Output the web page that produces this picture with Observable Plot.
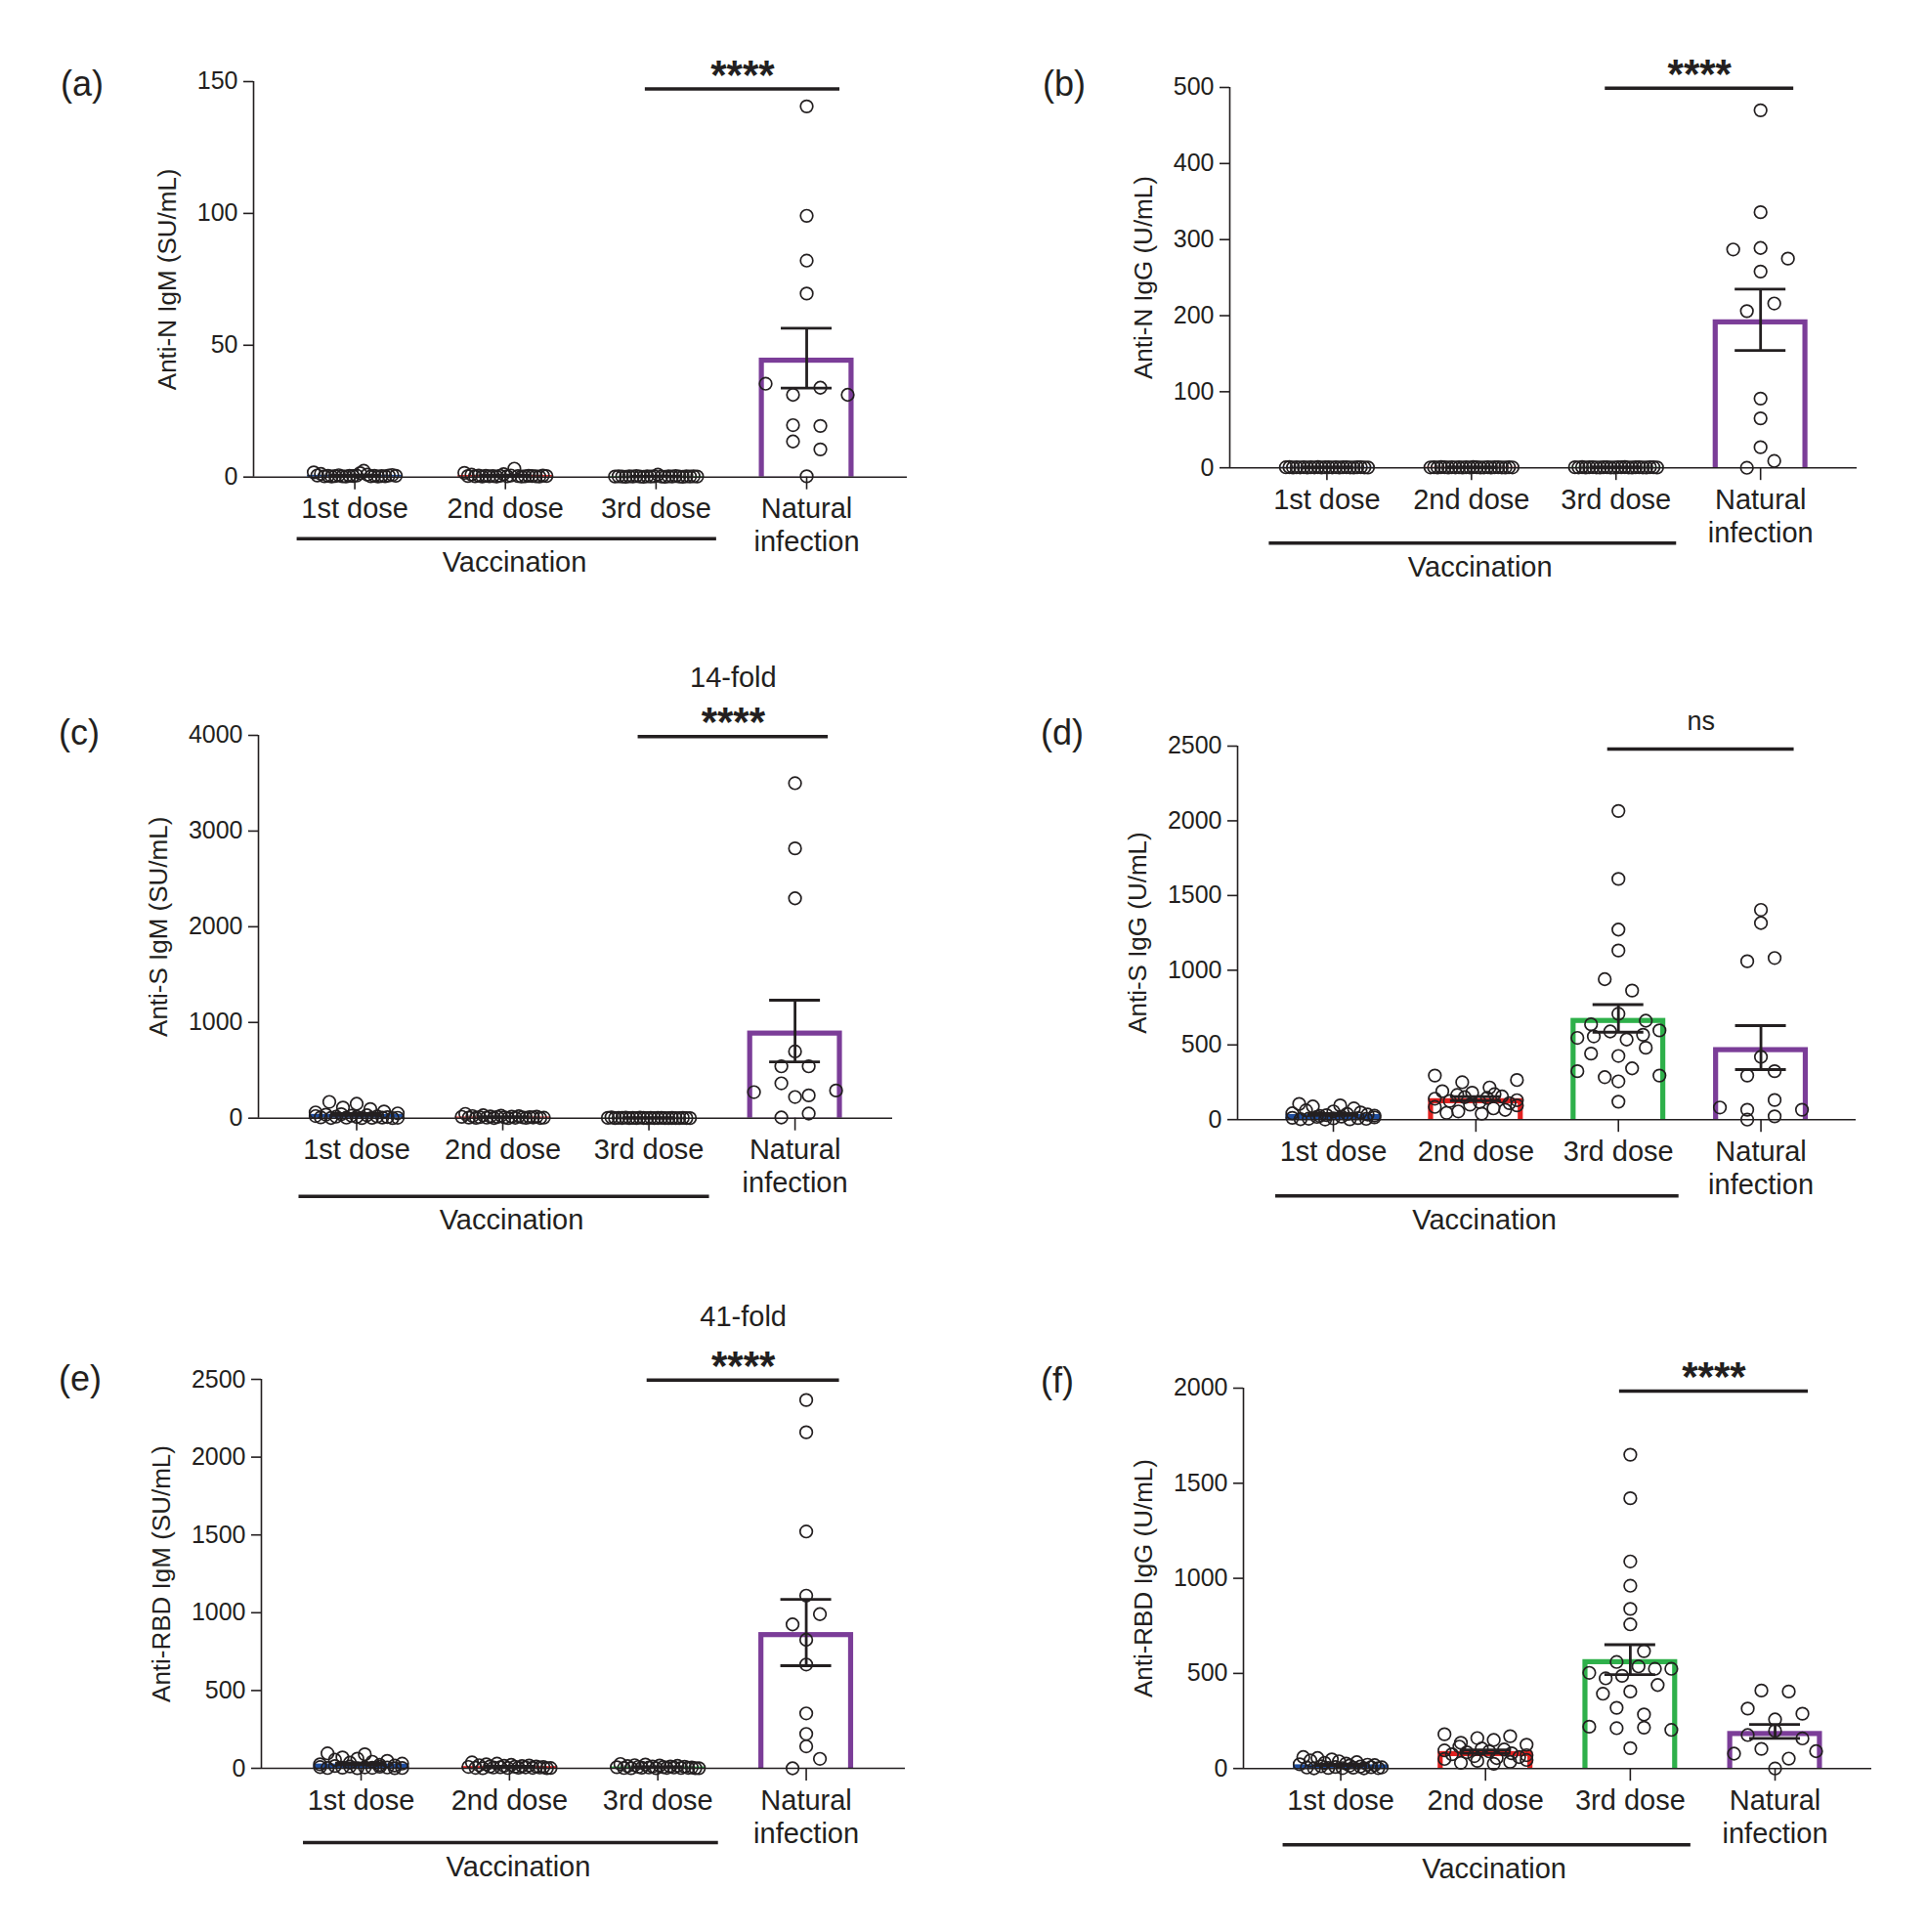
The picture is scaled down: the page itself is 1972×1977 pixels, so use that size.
<!DOCTYPE html>
<html><head><meta charset="utf-8">
<script src="https://cdn.jsdelivr.net/npm/d3@7"></script>
<script src="https://cdn.jsdelivr.net/npm/@observablehq/plot@0.6"></script>
<style>
body{margin:0;background:#fff;}
#root{position:relative;width:1972px;height:1977px;font-family:"Liberation Sans",Arial,sans-serif;color:#231f20;background:#fff;}
.letter{position:absolute;font-size:36px;line-height:1;white-space:nowrap;}
</style></head><body><div id="root"></div>
<script>
// ---------- categories / labels ----------
const groups = ["1st dose", "2nd dose", "3rd dose", "Natural infection"];
const tickLabels = ["1st dose", "2nd dose", "3rd dose", "Natural\ninfection"];
const groupColors = ["#1f4e9f", "#e3201f", "#2eb04a", "#7b3d98"];

// ---------- (a) Anti-N IgM (SU/mL) ----------
const aFirst = [1.8, 0.6, 1.2, 0.3, 0.5, 0.2, 0.4, 0.7, 0.3, 0.2, 0.5, 0.4, 0.6, 1.5, 2.4, 0.9, 0.3, 0.5, 0.2, 0.4, 0.3, 0.6, 0.8, 0.5];
const aSecond = [1.6, 0.4, 0.9, 0.3, 0.6, 0.2, 0.5, 0.3, 0.4, 0.2, 0.5, 1.1, 0.3, 0.6, 3.2, 0.4, 0.2, 0.3, 0.5, 0.4, 0.3, 0.2, 0.6, 0.4];
const aThird = [0.2, 0.3, 0.2, 0.1, 0.3, 0.2, 0.4, 0.2, 0.1, 0.3, 0.2, 0.3, 0.9, 0.2, 0.1, 0.3, 0.2, 0.4, 0.2, 0.1, 0.3, 0.2, 0.3, 0.2];
const aNatural = [140.6, 99.1, 82.1, 69.6, 35.4, 31.2, 33.9, 31.2, 19.7, 19.4, 13.5, 10.5, 0.3];
const aTicks = [0, 50, 100, 150];

// ---------- (b) Anti-N IgG (U/mL) ----------
const bFirst = [0.6, 0.9, 0.4, 0.7, 0.5, 0.8, 0.3, 0.6, 0.5, 0.9, 0.4, 0.7, 0.6, 0.5, 0.8, 0.4, 0.6, 0.7, 0.5, 0.3, 0.6, 0.8, 0.5, 0.4];
const bSecond = [0.5, 0.7, 0.4, 0.9, 0.6, 0.3, 0.8, 0.5, 0.6, 0.4, 0.7, 0.5, 0.9, 0.6, 0.4, 0.5, 0.8, 0.3, 0.6, 0.7, 0.5, 0.4, 0.6, 0.5];
const bThird = [0.7, 0.5, 0.9, 0.4, 0.6, 0.8, 0.5, 0.3, 0.7, 0.6, 0.4, 0.5, 0.8, 0.6, 0.9, 0.5, 0.4, 0.7, 0.6, 0.5, 0.3, 0.8, 0.6, 0.4];
const bNatural = [470, 336, 287, 289, 275, 258, 206, 216, 91, 65, 27, 0, 9];
const bTicks = [0, 100, 200, 300, 400, 500];

// ---------- (c) Anti-S IgM (SU/mL) ----------
const cFirst = [60, 170, 22, 8, 110, 36, 2, 150, 15, 42, 5, 95, 26, 12, 1, 70, 30, 3, 50, 18, 6, 10, 1, 4];
const cSecond = [14, 45, 6, 22, 3, 10, 30, 5, 18, 2, 12, 25, 8, 1, 16, 4, 20, 9, 3, 11, 7, 15, 2, 5];
const cThird = [3, 8, 1, 4, 2, 6, 1, 3, 0.5, 5, 2, 1, 4, 0.3, 2, 3, 1, 0.5, 2, 0.2, 1, 3, 0.5, 0.1];
const cNatural = [3500, 2819, 2297, 697, 541, 541, 272, 364, 221, 238, 289, 7, 48];
const cTicks = [0, 1000, 2000, 3000, 4000];

// ---------- (d) Anti-S IgG (U/mL) ----------
const dFirst = [42, 105, 12, 62, 3, 88, 24, 30, 6, 55, 18, 95, 1, 38, 75, 8, 48, 20, 2, 34, 27, 10, 5, 15];
const dSecond = [140, 295, 85, 190, 45, 250, 125, 165, 55, 215, 100, 150, 40, 180, 118, 265, 75, 145, 65, 170, 95, 155, 110, 130];
const dThird = [2066, 1611, 1272, 1132, 940, 864, 638, 708, 662, 547, 557, 590, 536, 568, 597, 442, 426, 481, 324, 284, 343, 256, 295, 120];
const dNatural = [1404, 1316, 1060, 1082, 420, 295, 324, 81, 66, 131, 66, 0, 22];
const dTicks = [0, 500, 1000, 1500, 2000, 2500];

// ---------- (e) Anti-RBD IgM (SU/mL) ----------
const eFirst = [26, 96, 8, 55, 2, 70, 15, 36, 4, 62, 12, 90, 1, 42, 22, 6, 48, 18, 3, 30, 10, 5, 1, 2];
const eSecond = [9, 38, 3, 20, 1, 26, 12, 5, 30, 7, 16, 2, 22, 10, 4, 14, 6, 18, 3, 11, 5, 8, 1, 2];
const eThird = [7, 28, 2, 14, 0.5, 20, 9, 4, 24, 5, 12, 1, 18, 8, 3, 11, 5, 16, 2, 10, 3, 6, 1, 1];
const eNatural = [2367, 2160, 1522, 1110, 925, 991, 826, 667, 353, 221, 141, 0, 61];
const eTicks = [0, 500, 1000, 1500, 2000, 2500];

// ---------- (f) Anti-RBD IgG (U/mL) ----------
const fFirst = [22, 60, 5, 42, 1, 55, 12, 30, 3, 48, 8, 38, 2, 26, 15, 4, 33, 10, 1, 20, 7, 18, 2, 6];
const fSecond = [95, 180, 50, 135, 30, 160, 75, 115, 40, 150, 85, 170, 25, 125, 65, 105, 35, 90, 55, 100, 45, 80, 60, 70];
const fThird = [1650, 1421, 1089, 961, 839, 758, 560, 617, 503, 474, 487, 537, 524, 524, 393, 405, 439, 319, 284, 220, 212, 215, 203, 107];
const fNatural = [410, 405, 315, 258, 288, 176, 198, 158, 78, 103, 52, 91, 0];
const fTicks = [0, 500, 1000, 1500, 2000];

// ---------- annotations ----------
const yLabels = ["Anti-N IgM (SU/mL)", "Anti-N IgG (U/mL)", "Anti-S IgM (SU/mL)", "Anti-S IgG (U/mL)", "Anti-RBD IgM (SU/mL)", "Anti-RBD IgG (U/mL)"];
const panelLetters = ["(a)", "(b)", "(c)", "(d)", "(e)", "(f)"];
const sigTexts = ["****", "****", "****", "ns", "****", "****"];
const sigLevels = [147.2, 499, 3988, 2480, 2495, 1985];
const foldTexts = [null, null, "14-fold", null, "41-fold", null];
const yMaxes = [150, 500, 4000, 2500, 2500, 2000];

// ---------- layout (page pixels) ----------
const layouts = [
  {axisX: 259, yTop: 83.3, y0: 488, xEnd: 928, vaccDy: 63, foldDy: -60, letterX: 62, letterY: 89},
  {axisX: 1258, yTop: 88.8, y0: 478, xEnd: 1900, vaccDy: 77, foldDy: -60, letterX: 1067, letterY: 89},
  {axisX: 264, yTop: 751.8, y0: 1143.5, xEnd: 913, vaccDy: 80, foldDy: -60, letterX: 60, letterY: 753},
  {axisX: 1266, yTop: 762.8, y0: 1145, xEnd: 1899, vaccDy: 78, foldDy: -60, letterX: 1065, letterY: 753},
  {axisX: 267, yTop: 1411, y0: 1809, xEnd: 926, vaccDy: 76, foldDy: -65, letterX: 60, letterY: 1414},
  {axisX: 1272, yTop: 1419.8, y0: 1809, xEnd: 1915, vaccDy: 78, foldDy: -60, letterX: 1065, letterY: 1416}
];
const panelData = [
  [aFirst, aSecond, aThird, aNatural],
  [bFirst, bSecond, bThird, bNatural],
  [cFirst, cSecond, cThird, cNatural],
  [dFirst, dSecond, dThird, dNatural],
  [eFirst, eSecond, eThird, eNatural],
  [fFirst, fSecond, fThird, fNatural]
];
const panelTicks = [aTicks, bTicks, cTicks, dTicks, eTicks, fTicks];

const INK = "#231f20";
const ROW_H = 12.5, SPACING = 28, MAX_SPAN = 84;
const BAR_HALF_PX = 48.5, BAR_EDGE_PX = 5.2, CAP_HALF_PX = 26;
const X_LO = -0.672, X_HI = 3.668;

// GraphPad-like scatter layout: rows of points with similar pixel height, spread horizontally
function swarmOffsets(py) {
  const idx = d3.range(py.length).sort((i, j) => py[j] - py[i] || i - j);
  const off = new Array(py.length).fill(0);
  let k = 0;
  while (k < idx.length) {
    const start = py[idx[k]];
    const row = [];
    while (k < idx.length && start - py[idx[k]] < ROW_H) row.push(idx[k++]);
    row.sort((i, j) => i - j);
    const n = row.length;
    const S = n > 1 ? Math.min(SPACING, MAX_SPAN / (n - 1)) : 0;
    row.forEach((i, j) => off[i] = (j - (n - 1) / 2) * S);
  }
  return off;
}

const root = document.getElementById("root");

panelData.forEach((gData, pi) => {
  const L = layouts[pi];
  const yMax = yMaxes[pi];
  const mL = 170, mT = 100, mR = 40, mB = 150;
  const W = L.xEnd - L.axisX, H = L.y0 - L.yTop;
  const step = W / (X_HI - X_LO);
  const k = H / yMax;
  const pts = [], stats = [];
  gData.forEach((arr, gi) => {
    const off = swarmOffsets(arr.map(v => v * k));
    arr.forEach((v, j) => pts.push({group: groups[gi], x: gi + off[j] / step, y: v}));
    const m = d3.mean(arr);
    const se = d3.deviation(arr) / Math.sqrt(arr.length);
    stats.push({gi, mean: m, inner: m - BAR_EDGE_PX / k, lo: Math.max(0, m - se), hi: m + se, color: groupColors[gi]});
  });
  const bw = BAR_HALF_PX / step, iw = (BAR_HALF_PX - BAR_EDGE_PX) / step, cw = CAP_HALF_PX / step;
  const ticks = panelTicks[pi];
  const tickW = d3.max(ticks, t => String(t).length) * 0.556 * 25;
  const sigX1 = 2 - 11 / step, sigX2 = 3 + 34 / step;
  const sigMid = (sigX1 + sigX2) / 2;
  const isNs = sigTexts[pi] === "ns";

  const marks = [
    // bar: coloured outer rect with white inner rect -> border drawn inside the bar
    Plot.rect(stats, {x1: d => d.gi - bw, x2: d => d.gi + bw, y1: 0, y2: "mean", fill: "color"}),
    Plot.rect(stats.filter(d => d.inner > 0), {x1: d => d.gi - iw, x2: d => d.gi + iw, y1: 0, y2: "inner", fill: "white"}),
    Plot.ruleY([0], {stroke: INK, strokeWidth: 1.6}),
    Plot.ruleX([X_LO], {stroke: INK, strokeWidth: 1.6}),
    Plot.dot(pts, {x: "x", y: "y", r: 6.3, stroke: INK, strokeWidth: 1.7, fill: "none"}),
    Plot.ruleX(stats, {x: "gi", y1: "lo", y2: "hi", stroke: INK, strokeWidth: 2.8}),
    Plot.ruleY(stats, {y: "hi", x1: d => d.gi - cw, x2: d => d.gi + cw, stroke: INK, strokeWidth: 2.8}),
    Plot.ruleY(stats, {y: "lo", x1: d => d.gi - cw, x2: d => d.gi + cw, stroke: INK, strokeWidth: 2.8}),
    Plot.axisY({ticks, tickFormat: d => String(d), tickSize: 10, tickPadding: 6, fontSize: 25,
      label: null, stroke: INK, strokeWidth: 1.6, fill: INK}),
    Plot.axisX({ticks: [0, 1, 2, 3], tickFormat: i => tickLabels[i], tickSize: 13, tickPadding: 5,
      fontSize: 29, lineHeight: 1.17, label: null, stroke: INK, strokeWidth: 1.6, fill: INK}),
    Plot.text([yLabels[pi]], {text: d => d, frameAnchor: "left", textAnchor: "middle", rotate: -90,
      dx: -(tickW + 16 + 30), fontSize: 26, fill: INK}),
    Plot.ruleY([sigLevels[pi]], {x1: sigX1, x2: sigX2, stroke: INK, strokeWidth: 3.5}),
    Plot.text([sigTexts[pi]], {text: d => d, x: sigMid, y: sigLevels[pi],
      dy: isNs ? -28 : -14, fontSize: isNs ? 27 : 42, fontWeight: isNs ? "normal" : "bold", fill: INK}),
    Plot.ruleY([0], {x1: -59 / step, x2: 2 + 62 / step, dy: L.vaccDy, stroke: INK, strokeWidth: 3.5}),
    Plot.text(["Vaccination"], {text: d => d, x: 1.06, y: 0, dy: L.vaccDy + 25, fontSize: 29, fill: INK})
  ];
  if (foldTexts[pi]) {
    marks.push(Plot.text([foldTexts[pi]], {text: d => d, x: sigMid, y: sigLevels[pi], dy: L.foldDy, fontSize: 29, fill: INK}));
  }

  const svg = Plot.plot({
    width: mL + W + mR,
    height: mT + H + mB,
    marginLeft: mL, marginRight: mR, marginTop: mT, marginBottom: mB,
    x: {domain: [X_LO, X_HI]},
    y: {domain: [0, yMax]},
    color: {type: "identity"},
    style: {background: "transparent", overflow: "visible", color: INK,
      fontFamily: "'Liberation Sans', Arial, sans-serif", maxWidth: "none"},
    marks
  });
  svg.style.position = "absolute";
  svg.style.left = (L.axisX - mL) + "px";
  svg.style.top = (L.yTop - mT) + "px";
  root.appendChild(svg);

  const lt = document.createElement("div");
  lt.className = "letter";
  lt.textContent = panelLetters[pi];
  lt.style.left = L.letterX + "px";
  lt.style.top = (L.letterY - 21) + "px";
  root.appendChild(lt);
});
</script>
</body></html>
